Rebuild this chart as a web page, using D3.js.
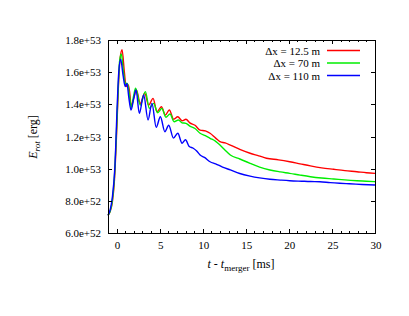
<!DOCTYPE html>
<html>
<head>
  <script src="https://d3js.org/d3.v7.min.js"></script>
  <style>
    html, body { margin: 0; padding: 0; background: #fff; overflow: hidden; }
    svg { display: block; }
    text { font-family: "Liberation Serif", "DejaVu Serif", serif; fill: #000; }
  </style>
</head>
<body>
  <svg></svg>
  <script>
    // values in units of 1e53 erg, time in ms after merger
    var xTicks = [0, 5, 10, 15, 20, 25, 30];
    var yTicks = [0.6, 0.8, 1.0, 1.2, 1.4, 1.6, 1.8];
    var labels = ["\u0394x = 12.5 m", "\u0394x = 70 m", "\u0394x = 110 m"];
    var colors = ["#ff0000", "#00ee00", "#0000ff"];

    var red = [[-1,0.71],[-0.75,0.735],[-0.5,0.79],[-0.25,0.93],[0,1.22],[0.2,1.5],[0.4,1.68],[0.63,1.74],
      [0.9,1.6],[1.1,1.51],[1.35,1.52],[1.5,1.48],[1.7,1.39],[2.0,1.44],[2.3,1.49],[2.75,1.405],[3.26,1.47],
      [3.72,1.395],[4.23,1.437],[4.69,1.354],[5.2,1.385],[5.66,1.334],[6.12,1.365],[6.63,1.307],[7.1,1.323],
      [7.6,1.298],[8.05,1.307],[8.5,1.285],[9.1,1.27],[9.69,1.24],[10.3,1.235],[10.85,1.22],[11.5,1.19],
      [12.0,1.168],[12.6,1.16],[13.2,1.147],[14.3,1.12],[15.5,1.096],[16.5,1.08],[17.4,1.065],[18.8,1.055],
      [20.1,1.043],[21.3,1.03],[22.5,1.017],[23.8,1.005],[25.2,0.996],[26.5,0.988],[27.9,0.981],[29,0.975],[30,0.971]];

    var green = [[-1,0.71],[-0.75,0.735],[-0.5,0.8],[-0.25,0.95],[0,1.25],[0.2,1.52],[0.35,1.67],[0.55,1.713],
      [0.8,1.6],[1.0,1.53],[1.25,1.53],[1.5,1.45],[1.7,1.38],[2.0,1.46],[2.2,1.5],[2.75,1.396],[3.34,1.479],
      [3.8,1.375],[4.3,1.406],[4.76,1.348],[5.26,1.375],[5.72,1.32],[6.2,1.34],[6.67,1.292],[7.17,1.303],
      [7.6,1.285],[8.05,1.282],[8.5,1.265],[9.1,1.25],[9.69,1.22],[10.3,1.205],[10.85,1.189],[11.5,1.17],
      [12.0,1.147],[12.6,1.115],[13.2,1.085],[14.3,1.06],[15.5,1.033],[16.6,1.01],[17.8,0.992],[19,0.98],
      [20.1,0.971],[21.3,0.96],[22.5,0.95],[23.8,0.942],[25.2,0.936],[26.5,0.93],[27.9,0.925],[29,0.922],[30,0.919]];

    var blue = [[-1,0.71],[-0.75,0.743],[-0.5,0.82],[-0.2,1.01],[0.08,1.41],[0.25,1.6],[0.47,1.68],[0.75,1.58],
      [1.0,1.51],[1.2,1.53],[1.4,1.45],[1.67,1.365],[2.0,1.44],[2.25,1.49],[2.64,1.344],[3.14,1.458],
      [3.65,1.303],[4.1,1.406],[4.6,1.257],[5.08,1.323],[5.6,1.23],[6.05,1.27],[6.6,1.19],[7.1,1.22],
      [7.6,1.158],[8.0,1.18],[8.4,1.14],[8.9,1.127],[9.3,1.11],[9.69,1.085],[10.2,1.07],[10.85,1.043],
      [11.5,1.03],[12.3,1.01],[13.2,0.992],[14.3,0.97],[15.5,0.954],[16.6,0.943],[17.8,0.934],[19,0.929],
      [20.1,0.925],[21.5,0.922],[22.5,0.92],[23.6,0.919],[24.8,0.913],[25.9,0.909],[27,0.906],[28.5,0.902],[30,0.898]];

    var series = [red, green, blue];

    var W = 409, H = 316;
    var pLeft = 108, pRight = 375, pTop = 40, pBottom = 233;

    var svg = d3.select("svg").attr("width", W).attr("height", H);
    svg.append("rect").attr("width", W).attr("height", H).attr("fill", "#fff");

    var x = d3.scaleLinear().domain([-1, 30]).range([pLeft, pRight]);
    var y = d3.scaleLinear().domain([0.6, 1.8]).range([pBottom, pTop]);

    // curves
    var line = d3.line()
      .x(d => x(d[0]))
      .y(d => y(d[1]))
      .curve(d3.curveMonotoneX);

    svg.append("g").selectAll("path")
      .data(series)
      .join("path")
      .attr("d", line)
      .attr("fill", "none")
      .attr("stroke", (d, i) => colors[i])
      .attr("stroke-width", 1.4);

    // ticks, gnuplot style: inward and mirrored
    var minor = d3.range(-1, 31, 1);
    var tk = svg.append("g").attr("stroke", "#000").attr("stroke-width", 1).attr("shape-rendering", "crispEdges");
    minor.forEach(function (t) {
      var len = xTicks.indexOf(t) >= 0 ? 4 : 2;
      var px = Math.round(x(t)) + 0.5;
      tk.append("line").attr("x1", px).attr("x2", px).attr("y1", pBottom).attr("y2", pBottom - len);
      tk.append("line").attr("x1", px).attr("x2", px).attr("y1", pTop).attr("y2", pTop + len);
    });
    yTicks.forEach(function (v) {
      var py = Math.round(y(v)) + 0.5;
      tk.append("line").attr("x1", pLeft).attr("x2", pLeft + 4).attr("y1", py).attr("y2", py);
      tk.append("line").attr("x1", pRight).attr("x2", pRight - 4).attr("y1", py).attr("y2", py);
    });

    // frame
    svg.append("rect")
      .attr("x", pLeft + 0.5).attr("y", pTop + 0.5)
      .attr("width", pRight - pLeft).attr("height", pBottom - pTop)
      .attr("fill", "none").attr("stroke", "#000").attr("stroke-width", 1)
      .attr("shape-rendering", "crispEdges");

    // tick labels
    svg.append("g").selectAll("text")
      .data(xTicks)
      .join("text")
      .attr("x", d => x(d) + 1)
      .attr("y", 249)
      .attr("text-anchor", "middle")
      .attr("font-size", 11)
      .text(d => d);

    svg.append("g").selectAll("text")
      .data(yTicks)
      .join("text")
      .attr("x", 101)
      .attr("y", d => y(d) + 4)
      .attr("text-anchor", "end")
      .attr("font-size", 11)
      .text(d => (d * 1e53).toExponential(1));

    // axis titles
    var xt = svg.append("text")
      .attr("x", 241).attr("y", 268)
      .attr("text-anchor", "middle")
      .attr("font-size", 12);
    xt.append("tspan").attr("font-style", "italic").text("t");
    xt.append("tspan").text(" - ");
    xt.append("tspan").attr("font-style", "italic").text("t");
    xt.append("tspan").attr("font-size", 9).attr("dy", 3).text("merger");
    xt.append("tspan").attr("dy", -3).text(" [ms]");

    var yt = svg.append("text")
      .attr("transform", "translate(37,137) rotate(-90)")
      .attr("text-anchor", "middle")
      .attr("font-size", 12);
    yt.append("tspan").attr("font-style", "italic").text("E");
    yt.append("tspan").attr("font-style", "italic").attr("font-size", 9).attr("dy", 3).text("rot");
    yt.append("tspan").attr("dy", -3).text(" [erg]");

    // legend
    var lg = svg.append("g").selectAll("g")
      .data(labels)
      .join("g")
      .attr("transform", (d, i) => "translate(0," + (50.5 + i * 12.5) + ")");
    lg.append("text")
      .attr("x", 320).attr("y", 4)
      .attr("text-anchor", "end")
      .attr("font-size", 11)
      .text(d => d);
    lg.append("line")
      .attr("x1", 327).attr("x2", 360)
      .attr("y1", 0).attr("y2", 0)
      .attr("stroke", (d, i) => colors[i])
      .attr("stroke-width", 1.4);
  </script>
</body>
</html>
